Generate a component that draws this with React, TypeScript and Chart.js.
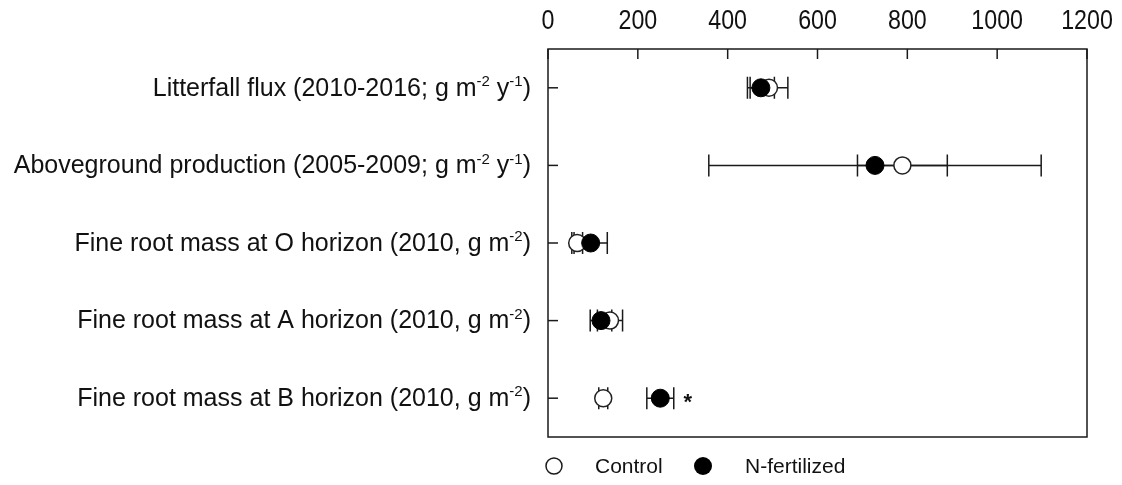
import React, { useEffect, useRef } from 'react';
import { Chart, registerables } from 'chart.js';
Chart.register(...registerables);

const categories = [
  'Litterfall flux (2010-2016; g m^{-2} y^{-1})',
  'Aboveground production (2005-2009; g m^{-2} y^{-1})',
  'Fine root mass at O horizon (2010, g m^{-2})',
  'Fine root mass at A horizon (2010, g m^{-2})',
  'Fine root mass at B horizon (2010, g m^{-2})',
];
const controlMean = [492, 789, 65, 138, 123];
const controlErr = [42, 100, 12, 28, 10];
const nMean = [474, 728, 95, 118, 250];
const nErr = [30, 370, 37, 24, 30];
const significance = ['', '', '', '', '*'];
const xTicks = [0, 200, 400, 600, 800, 1000, 1200];
const seriesNames = ['Control', 'N-fertilized'];

const FONT = "'Liberation Sans', Arial, sans-serif";

function parseRich(s: string) {
  const parts: { t: string; sup: boolean }[] = [];
  const re = /\^\{([^}]*)\}/g;
  let last = 0;
  let m: RegExpExecArray | null;
  while ((m = re.exec(s))) {
    if (m.index > last) parts.push({ t: s.slice(last, m.index), sup: false });
    parts.push({ t: m[1], sup: true });
    last = m.index + m[0].length;
  }
  if (last < s.length) parts.push({ t: s.slice(last), sup: false });
  return parts;
}

const decor = {
  id: 'decor',
  beforeDatasetsDraw(chart: any) {
    const ctx = chart.ctx;
    const xs = chart.scales.x;
    const ys = chart.scales.y;
    ctx.save();
    ctx.strokeStyle = '#1a1a1a';
    ctx.lineWidth = 1.5;
    const drawErr = (means: number[], errs: number[]) => {
      means.forEach((m, i) => {
        const y = ys.getPixelForValue(i);
        const x1 = xs.getPixelForValue(m - errs[i]);
        const x2 = xs.getPixelForValue(m + errs[i]);
        ctx.beginPath();
        ctx.moveTo(x1, y);
        ctx.lineTo(x2, y);
        ctx.moveTo(x1, y - 11);
        ctx.lineTo(x1, y + 11);
        ctx.moveTo(x2, y - 11);
        ctx.lineTo(x2, y + 11);
        ctx.stroke();
      });
    };
    drawErr(controlMean, controlErr);
    drawErr(nMean, nErr);
    ctx.restore();
  },
  afterDraw(chart: any) {
    const ctx = chart.ctx;
    const xs = chart.scales.x;
    const ys = chart.scales.y;
    const a = chart.chartArea;
    ctx.save();
    ctx.strokeStyle = '#1a1a1a';
    ctx.lineWidth = 1.5;
    ctx.strokeRect(a.left, a.top, a.right - a.left, a.bottom - a.top);
    // x ticks (inward) and labels (slightly condensed)
    ctx.fillStyle = '#111';
    ctx.font = `27px ${FONT}`;
    ctx.textAlign = 'center';
    ctx.textBaseline = 'middle';
    const sx = 0.86;
    xTicks.forEach((v) => {
      const x = xs.getPixelForValue(v);
      ctx.beginPath();
      ctx.moveTo(x, a.top);
      ctx.lineTo(x, a.top + 10);
      ctx.stroke();
      ctx.save();
      ctx.translate(x, 22);
      ctx.scale(sx, 1);
      ctx.fillText(String(v), 0, 0);
      ctx.restore();
    });
    // y ticks and rich labels
    categories.forEach((c, i) => {
      const y = ys.getPixelForValue(i);
      ctx.beginPath();
      ctx.moveTo(a.left, y);
      ctx.lineTo(a.left + 10, y);
      ctx.stroke();
      const parts = parseRich(c);
      const big = `25px ${FONT}`;
      const small = `15px ${FONT}`;
      let w = 0;
      parts.forEach((p) => {
        ctx.font = p.sup ? small : big;
        w += ctx.measureText(p.t).width;
      });
      let x = 531 - w;
      ctx.textAlign = 'left';
      ctx.textBaseline = 'middle';
      parts.forEach((p) => {
        ctx.font = p.sup ? small : big;
        ctx.fillText(p.t, x, p.sup ? y - 6 : y + 1);
        x += ctx.measureText(p.t).width;
      });
      if (significance[i]) {
        ctx.font = `bold 22px ${FONT}`;
        ctx.textAlign = 'center';
        ctx.fillText(significance[i], xs.getPixelForValue(nMean[i] + nErr[i]) + 14, y + 5);
      }
    });
    // legend
    const ly = 466;
    ctx.font = `21px ${FONT}`;
    ctx.textAlign = 'left';
    ctx.textBaseline = 'middle';
    ctx.beginPath();
    ctx.arc(554, ly, 8, 0, Math.PI * 2);
    ctx.fillStyle = '#fff';
    ctx.fill();
    ctx.stroke();
    ctx.fillStyle = '#111';
    ctx.fillText(seriesNames[0], 595, ly + 1);
    ctx.beginPath();
    ctx.arc(703, ly, 9, 0, Math.PI * 2);
    ctx.fillStyle = '#000';
    ctx.fill();
    ctx.fillStyle = '#111';
    ctx.fillText(seriesNames[1], 745, ly + 1);
    ctx.restore();
  },
};

export default function App() {
  const ref = useRef<HTMLCanvasElement>(null);
  useEffect(() => {
    document.body.style.margin = '0';
    const chart = new Chart(ref.current as HTMLCanvasElement, {
      type: 'line',
      data: {
        labels: categories,
        datasets: [
          {
            label: seriesNames[1],
            data: nMean,
            showLine: false,
            pointRadius: 9,
            pointBackgroundColor: '#000',
            pointBorderColor: '#000',
            pointBorderWidth: 1,
            order: 0,
          },
          {
            label: seriesNames[0],
            data: controlMean,
            showLine: false,
            pointRadius: 8.5,
            pointBackgroundColor: '#fff',
            pointBorderColor: '#222',
            pointBorderWidth: 1.5,
            order: 1,
          },
        ],
      },
      options: {
        indexAxis: 'y',
        animation: false,
        responsive: false,
        devicePixelRatio: 1,
        layout: { padding: { top: 0, left: 0, right: 35, bottom: 48 } },
        plugins: { legend: { display: false }, tooltip: { enabled: false } },
        scales: {
          x: {
            type: 'linear',
            position: 'top',
            min: 0,
            max: 1200,
            ticks: { display: false, stepSize: 200 },
            grid: { display: false },
            border: { display: false },
            afterFit: (s: any) => {
              s.height = 49;
            },
          },
          y: {
            type: 'category',
            offset: true,
            ticks: { display: false },
            grid: { display: false },
            border: { display: false },
            afterFit: (s: any) => {
              s.width = 548;
            },
          },
        },
      } as any,
      plugins: [decor],
    });
    return () => chart.destroy();
  }, []);
  return (
    <div style={{ width: 1122, height: 485 }}>
      <canvas ref={ref} width={1122} height={485} />
    </div>
  );
}
